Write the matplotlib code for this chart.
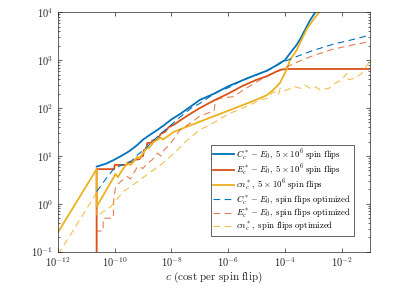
import numpy as np
import matplotlib
matplotlib.use("Agg")
import matplotlib.pyplot as plt
from matplotlib.ticker import FuncFormatter, FixedLocator, LogLocator, NullLocator

plt.rcParams["mathtext.fontset"] = "cm"

BLUE = "#0072BD"
RED = "#D95319"
YELLOW = "#EDB120"

# C_c^* - E_0, fixed 5e6 spin flips
C_FIX_X = [2.3e-11, 5.0e-11, 9.5e-11, 1.6e-10, 3.2e-10, 6.3e-10, 1e-9, 1.8e-9,
           3.2e-9, 5.5e-9, 1e-8, 2e-8, 5e-8, 1e-7, 3.2e-7, 1e-6, 3.2e-6, 1e-5,
           2.3e-5, 5e-5, 6.8e-5, 1e-4, 1.5e-4, 2.6e-4, 3.5e-4, 5.1e-4, 7.8e-4,
           1.17e-3]
C_FIX_Y = [6.0, 6.9, 8.3, 9.8, 12.5, 17, 22, 28, 35, 44, 58, 75, 110, 148, 200,
           285, 380, 500, 600, 780, 880, 1000, 1380, 2100, 2800, 4300, 6900,
           10000]

# E_c^* - E_0, fixed 5e6 spin flips
E_FIX_X = [2.3e-11, 2.3e-11, 9.5e-11, 1.0e-10, 2.6e-10, 2.8e-10, 4.5e-10, 5e-10,
           7.5e-10, 8.3e-10, 1.0e-9, 1.07e-9, 1.3e-9, 1.4e-9, 2.0e-9, 2.1e-9,
           3.2e-9, 4.2e-9, 6e-9, 8e-9, 1.23e-8, 2e-8, 5e-8, 1e-7, 3.2e-7, 1e-6,
           3.2e-6, 1e-5, 2.3e-5, 5e-5, 7.9e-5, 1.3e-4, 1e-1]
E_FIX_Y = [0.05, 5.3, 5.3, 6.5, 6.5, 7.2, 7.6, 8.3, 8.6, 9.6, 10, 13.3, 14, 18.5,
           19, 21, 22, 29, 32, 40, 45, 55, 78, 100, 145, 200, 290, 390, 460,
           580, 640, 655, 655]

# cn_c^*, fixed 5e6 spin flips
N_FIX_X = [1e-12, 2.3e-11, 2.3e-11, 9.5e-11, 1.05e-10, 1.3e-10, 1.6e-10,
           2.75e-10, 3.6e-10, 6.3e-10, 7.4e-10, 1.07e-9, 1.4e-9, 1.6e-9, 2.45e-9,
           4.2e-9, 5e-9, 1.23e-8, 1e-7, 1e-6, 3.2e-6, 1e-5, 2.3e-5, 3.9e-5,
           6.8e-5, 1.17e-4, 1.5e-4, 2.6e-4, 5.9e-4, 1e-3, 1.6e-3]
N_FIX_Y = [0.255, 5.3, 0.87, 3.7, 4.2, 3.6, 4.5, 7.0, 6.5, 9.6, 9.0, 12, 15.6,
           14.5, 20, 24, 22, 32, 52, 88, 115, 150, 186, 240, 340, 650, 1000,
           1630, 4500, 7000, 10000]

# C_c^* - E_0, spin flips optimized
C_OPT_X = [2.3e-11, 5e-11, 9.5e-11, 1.6e-10, 2.75e-10, 4e-10, 6.3e-10, 1e-9,
           1.4e-9, 2.5e-9, 5e-9, 1e-8, 2e-8, 5e-8, 1e-7, 2.3e-7, 5e-7, 1e-6,
           2e-6, 5e-6, 1e-5, 3.2e-5, 6.8e-5, 1e-4, 3.2e-4, 1e-3, 5e-3, 3.2e-2,
           1e-1]
C_OPT_Y = [1.8, 3.4, 5.5, 6.3, 7.0, 8.0, 10.5, 13, 15.6, 22, 32, 45, 65, 100,
           125, 175, 230, 265, 330, 430, 490, 660, 850, 950, 1250, 1600, 2150,
           2800, 3350]

# E_c^* - E_0, spin flips optimized
E_OPT_X = [2.3e-11, 2.3e-11, 3.9e-11, 3.9e-11, 8.9e-11, 9.2e-11, 1.07e-10,
           1.6e-10, 2.75e-10, 3.6e-10, 6.3e-10, 1e-9, 1.4e-9, 2.1e-9, 3.2e-9,
           4.2e-9, 5.5e-9, 9.5e-9, 2e-8, 5e-8, 1e-7, 3.2e-7, 3.5e-7, 5.1e-7,
           1.5e-6, 3.5e-6, 1e-5, 2.5e-5, 6.3e-5, 1e-4, 3.2e-4, 1e-3, 5e-3,
           3.2e-2, 1e-1]
E_OPT_Y = [0.05, 0.27, 0.27, 0.5, 0.5, 1.2, 2.3, 2.9, 3.7, 3.3, 6.0, 5.5, 7.0,
           8.3, 11.4, 10, 13.3, 18.5, 35, 50, 68, 88, 140, 160, 173, 240, 350,
           480, 620, 700, 950, 1250, 1700, 2150, 2450]

# cn_c^*, spin flips optimized
N_OPT_X = [1e-12, 2.3e-11, 2.3e-11, 7.2e-11, 2e-10, 6.3e-10, 1.8e-9, 4.2e-9,
           1.23e-8, 3.2e-8, 1e-7, 3.2e-7, 1e-6, 3.2e-6, 1e-5, 1.35e-5, 2.3e-5,
           3.9e-5, 5.9e-5, 6.8e-5, 1e-4, 2.3e-4, 3.5e-4, 5.1e-4, 7.8e-4,
           1.17e-3, 1.74e-3, 3.5e-3, 5.9e-3, 1.02e-2, 1.5e-2, 1.74e-2, 2.95e-2,
           5.1e-2, 8.7e-2, 1e-1]
N_OPT_Y = [0.087, 1.7, 0.55, 0.87, 1.8, 2.9, 4.6, 6.5, 11.4, 20, 35, 50, 75, 100,
           135, 150, 158, 220, 186, 258, 230, 280, 258, 300, 258, 280, 240, 258,
           330, 390, 530, 390, 420, 530, 850, 950]

LABELS = [
    r"$C_c^* - E_0,\ 5\times10^6\ \mathrm{spin\ flips}$",
    r"$E_c^* - E_0,\ 5\times10^6\ \mathrm{spin\ flips}$",
    r"$cn_c^*,\ 5\times10^6\ \mathrm{spin\ flips}$",
    r"$C_c^* - E_0,\ \mathrm{spin\ flips\ optimized}$",
    r"$E_c^* - E_0,\ \mathrm{spin\ flips\ optimized}$",
    r"$cn_c^*,\ \mathrm{spin\ flips\ optimized}$",
]

fig = plt.figure(figsize=(4.15, 3.0), dpi=100)
ax = fig.add_axes([0.1398, 0.161, 0.7518, 0.798])

ax.plot(C_FIX_X, C_FIX_Y, color=BLUE, lw=1.3, label=LABELS[0])
ax.plot(E_FIX_X, E_FIX_Y, color=RED, lw=1.3, label=LABELS[1])
ax.plot(N_FIX_X, N_FIX_Y, color=YELLOW, lw=1.3, label=LABELS[2])
dash = (6, 4)
ax.plot(C_OPT_X, C_OPT_Y, color=BLUE, lw=0.8, dashes=dash, label=LABELS[3])
ax.plot(E_OPT_X, E_OPT_Y, color=RED, lw=0.8, dashes=dash, alpha=0.75,
        label=LABELS[4])
ax.plot(N_OPT_X, N_OPT_Y, color=YELLOW, lw=0.8, dashes=dash, alpha=0.8,
        label=LABELS[5])

ax.set_xscale("log")
ax.set_yscale("log")
ax.set_xlim(1e-12, 1e-1)
ax.set_ylim(1e-1, 1e4)

ax.xaxis.set_major_locator(FixedLocator([1e-12, 1e-10, 1e-8, 1e-6, 1e-4, 1e-2]))
ax.xaxis.set_minor_locator(NullLocator())
ax.yaxis.set_major_locator(FixedLocator([1e-1, 1, 10, 100, 1e3, 1e4]))
ax.yaxis.set_minor_locator(LogLocator(base=10, subs=np.arange(2, 10)))
fmt = FuncFormatter(lambda v, p: r"$10^{%d}$" % round(np.log10(v)))
ax.xaxis.set_major_formatter(fmt)
ax.yaxis.set_major_formatter(fmt)

for s in ax.spines.values():
    s.set_color("#262626")
    s.set_linewidth(0.5)
ax.tick_params(which="both", direction="in", top=True, right=True,
               color="#262626", width=0.5, labelsize=7.5, labelcolor="#262626")
ax.tick_params(which="major", length=3)
ax.tick_params(which="minor", length=1.6)
ax.tick_params(axis="x", pad=3)

ax.set_xlabel(r"$c\ \mathrm{(cost\ per\ spin\ flip)}$", fontsize=8,
              color="#262626", labelpad=0)

leg = ax.legend(loc="lower right", bbox_to_anchor=(0.949, 0.067),
                borderaxespad=0, fontsize=6.3, fancybox=False, framealpha=1,
                edgecolor="#262626", handlelength=2.3, handletextpad=0.3,
                labelspacing=0.0, borderpad=0.3)
leg.get_frame().set_linewidth(0.5)

fig.savefig("out.png", dpi=100)
